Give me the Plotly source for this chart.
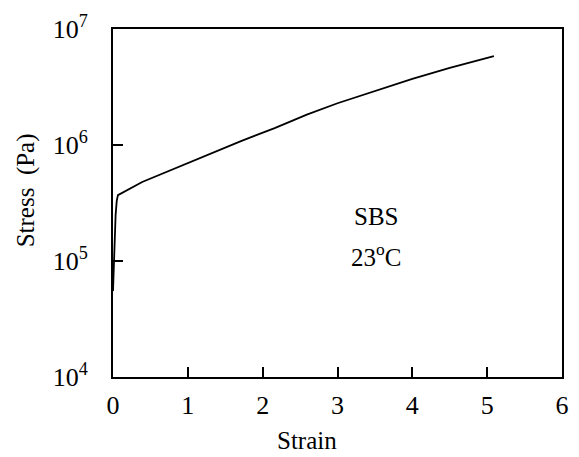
import plotly.graph_objects as go

strain = [0.0, 0.01, 0.02, 0.035, 0.05, 0.066, 0.39, 0.84, 1.28, 1.71, 2.16, 2.59, 3.0, 3.5, 4.0, 4.5, 5.09]
stress = [5.5e4, 9e4, 1.5e5, 2.5e5, 3.3e5, 3.7e5, 4.8e5, 6.34e5, 8.2e5, 1.08e6, 1.40e6, 1.83e6, 2.29e6, 2.92e6, 3.72e6, 4.62e6, 5.85e6]

x_ticks = [0, 1, 2, 3, 4, 5, 6]
y_ticks = [1e4, 1e5, 1e6, 1e7]
y_tick_text = ["10<sup>4</sup>", "10<sup>5</sup>", "10<sup>6</sup>", "10<sup>7</sup>"]

font = "Liberation Serif"
FS = 25
TFS = 26

W, H = 579, 457
L, R, T, B = 113, 10, 29, 80
pw = W - L - R
ph = H - T - B


def px(xp):
    return (xp - L) / pw


def py(yp):
    return 1 - (yp - T) / ph


fig = go.Figure()
fig.add_trace(go.Scatter(x=strain, y=stress, mode="lines",
                         line=dict(color="black", width=1.8),
                         showlegend=False))

fig.update_layout(
    width=W, height=H,
    margin=dict(l=L, r=R, t=T, b=B),
    paper_bgcolor="white", plot_bgcolor="white",
    font=dict(family=font, size=FS, color="black"),
    xaxis=dict(range=[0, 6], tickvals=x_ticks, ticks="inside", ticklen=10, tickwidth=2,
               tickcolor="black", showline=True, linecolor="black", linewidth=2,
               mirror=True, showgrid=False, zeroline=False, ticklabelstandoff=4,
               tickfont=dict(family=font, size=TFS)),
    yaxis=dict(type="log", range=[4, 7], tickvals=y_ticks, ticktext=y_tick_text,
               ticks="inside", ticklen=10, tickwidth=2, tickcolor="black",
               showline=True, linecolor="black", linewidth=2, mirror=True,
               showgrid=False, zeroline=False, ticklabelstandoff=18,
               tickfont=dict(family=font, size=TFS)),
    annotations=[
        dict(text="SBS", x=3.51, y=5.38, xref="x", yref="y", showarrow=False,
             xanchor="center", yanchor="middle", font=dict(family=font, size=FS)),
        dict(text="23<sup>o</sup>C", x=3.51, y=5.05, xref="x", yref="y", showarrow=False,
             xanchor="center", yanchor="middle", font=dict(family=font, size=FS)),
        dict(text="Strain", x=px(310), y=py(440), xref="paper", yref="paper",
             showarrow=False, xanchor="center", yanchor="middle",
             font=dict(family=font, size=FS)),
        dict(text="Stress&nbsp;&nbsp;(Pa)", x=px(25), y=py(190), xref="paper", yref="paper",
             textangle=-90, showarrow=False, xanchor="center", yanchor="middle",
             font=dict(family=font, size=FS)),
    ],
)

fig.write_html("out.html")
